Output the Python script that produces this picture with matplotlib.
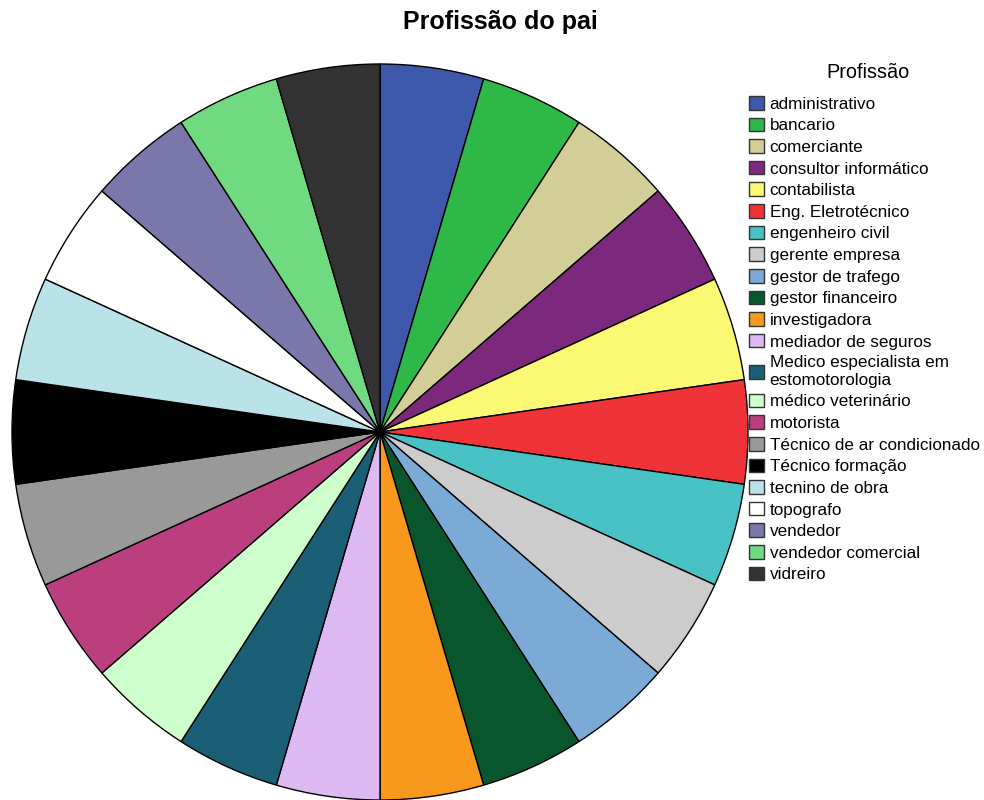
import matplotlib
matplotlib.use("Agg")
import matplotlib.pyplot as plt
import numpy as np

plt.rcParams['font.family'] = ['Liberation Sans', 'DejaVu Sans']

# categories and counts (each profession appears once)
profissoes = ["administrativo", "bancario", "comerciante", "consultor informático",
              "contabilista", "Eng. Eletrotécnico", "engenheiro civil", "gerente empresa",
              "gestor de trafego", "gestor financeiro", "investigadora", "mediador de seguros",
              "Medico especialista em\nestomotorologia", "médico veterinário", "motorista",
              "Técnico de ar condicionado", "Técnico formação", "tecnino de obra",
              "topografo", "vendedor", "vendedor comercial", "vidreiro"]
contagens = [1] * 22
cores = ["#3E58AC", "#2EB848", "#D3CE97", "#7C287D", "#FBF873", "#EF3338",
         "#48C2C5", "#CCCCCC", "#7AAAD5", "#0A562C", "#F8981D", "#DDB9F1",
         "#1A5F76", "#CCFFCC", "#BB3F7F", "#999999", "#010101", "#B9E3E9",
         "#FFFFFF", "#7A77AB", "#6FDA7F", "#333333"]

W, H = 984, 800
fig = plt.figure(figsize=(W / 100, H / 100), dpi=100)
cx, cy, r = 380, 432, 368
ax = fig.add_axes([(cx - r) / W, (H - cy - r) / H, 2 * r / W, 2 * r / H])
wedges, _ = ax.pie(contagens, colors=cores, startangle=90, counterclock=False,
                   radius=1, wedgeprops=dict(edgecolor='black', linewidth=1.0))
ax.set_xlim(-1.0, 1.0)
ax.set_ylim(-1.0, 1.0)
ax.set_aspect('equal')
ax.axis('off')

fig.text(500 / W, 1 - 22 / H, "Profissão do pai", ha='center', va='center',
         fontsize=18, fontweight='bold')
fig.text(868 / W, 1 - 73 / H, "Profissão", ha='center', va='center', fontsize=14.3)

leg = fig.legend(wedges, profissoes, loc='upper left',
                 bbox_to_anchor=(749 / W, 1 - 96 / H), frameon=False,
                 fontsize=12.3, handlelength=0.85, handleheight=0.85,
                 handletextpad=0.35, labelspacing=0.345, borderaxespad=0, borderpad=0)
for h in leg.legend_handles:
    h.set_edgecolor('#333333')
    h.set_linewidth(1.0)

fig.savefig("out.png", dpi=100)
